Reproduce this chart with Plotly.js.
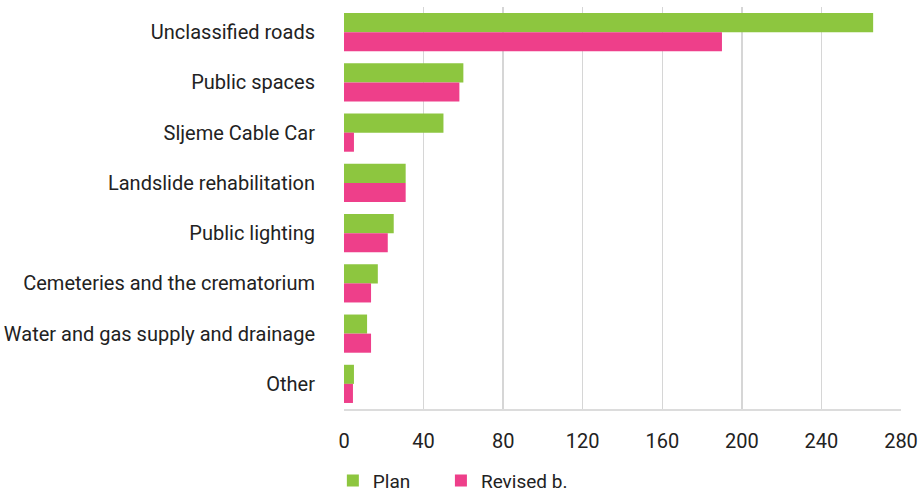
<!DOCTYPE html>
<html>
<head>
<meta charset="utf-8">
<script src="https://cdn.plot.ly/plotly-3.0.1.min.js"></script>
<style>html,body{margin:0;padding:0;background:#fff;}#chart{width:922px;height:493px;}</style>
</head>
<body>
<div id="chart"></div>
<script>
const categories = [
  "Unclassified roads",
  "Public spaces",
  "Sljeme Cable Car",
  "Landslide rehabilitation",
  "Public lighting",
  "Cemeteries and the crematorium",
  "Water and gas supply and drainage",
  "Other"
];
const planValues = [266, 60, 50, 31, 25, 17, 11.6, 5];
const revisedValues = [190, 58, 5, 31, 22, 13.6, 13.6, 4.5];
const xTickValues = [0, 40, 80, 120, 160, 200, 240, 280];
const seriesNames = ["Plan", "Revised b."];

const FONT = "Roboto, sans-serif";

const data = [
  {type: "bar", orientation: "h", name: seriesNames[0], y: categories, x: planValues,
   marker: {color: "#8DC63F"}, hoverinfo: "x+y", legend: "legend"},
  {type: "bar", orientation: "h", name: seriesNames[1], y: categories, x: revisedValues,
   marker: {color: "#EE3F8A"}, hoverinfo: "x+y", legend: "legend2"}
];

const legendBase = {
  orientation: "h", xanchor: "left", y: -0.178, yanchor: "middle",
  font: {family: FONT, size: 19, color: "#222"}, itemwidth: 30,
  bgcolor: "rgba(0,0,0,0)"
};

const layout = {
  width: 922, height: 493,
  margin: {l: 344, r: 21, t: 7, b: 84, autoexpand: false},
  paper_bgcolor: "#fff", plot_bgcolor: "#fff",
  barmode: "group", bargap: 0.24, bargroupgap: 0,
  font: {family: FONT, size: 20, color: "#222"},
  xaxis: {
    range: [0, 280], tickvals: xTickValues, ticktext: xTickValues.map(String),
    showgrid: true, gridcolor: "#d6d6d6", gridwidth: 1.5,
    zeroline: false, showline: true, linecolor: "#dcdcdc", linewidth: 1.5,
    ticks: "", ticklabelstandoff: 13, automargin: false,
    tickfont: {family: FONT, size: 20, color: "#222"}, fixedrange: true
  },
  yaxis: {
    autorange: "reversed", type: "category", showgrid: false, zeroline: false,
    ticks: "", ticklabelstandoff: 28, automargin: false,
    tickfont: {family: FONT, size: 20, color: "#222"}, fixedrange: true
  },
  legend: Object.assign({}, legendBase, {x: -0.02}),
  legend2: Object.assign({}, legendBase, {x: 0.174}),
  showlegend: true
};

Plotly.newPlot("chart", data, layout, {displayModeBar: false, staticPlot: true});
</script>
</body>
</html>
